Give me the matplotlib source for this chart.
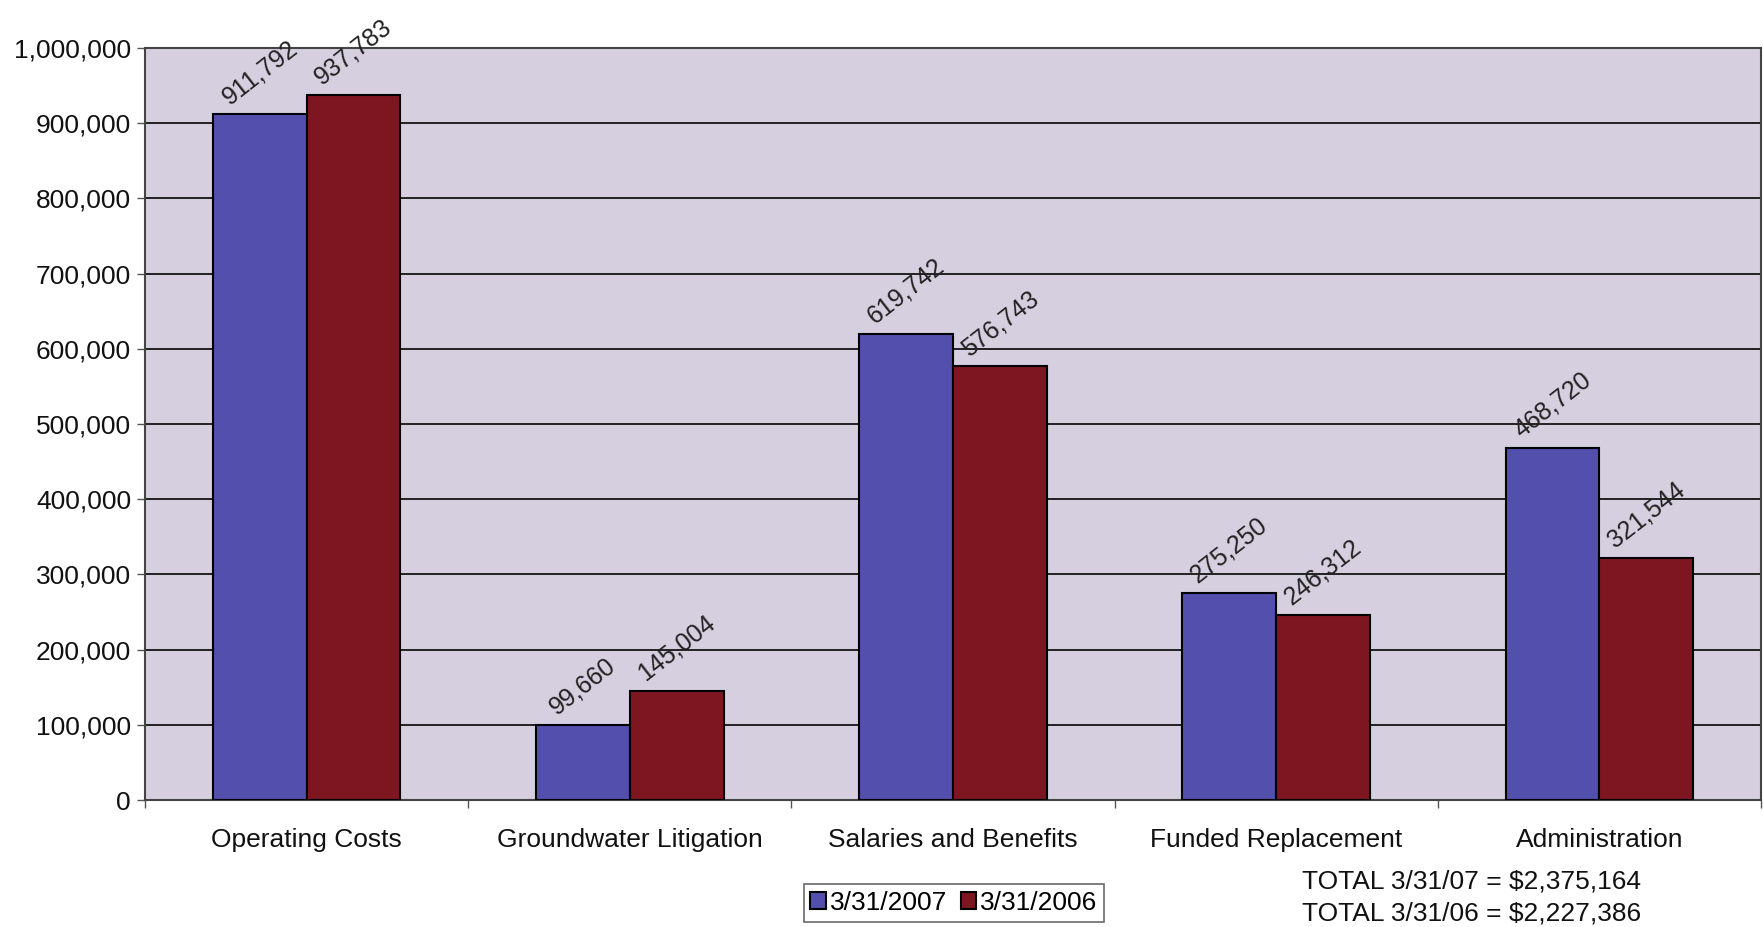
import matplotlib
matplotlib.use('Agg')
import matplotlib.pyplot as plt
from matplotlib.ticker import FuncFormatter, FixedLocator
import numpy as np

plt.rcParams['font.family'] = ['Liberation Sans', 'DejaVu Sans']

CATEGORIES = ['Operating Costs', 'Groundwater Litigation', 'Salaries and Benefits',
              'Funded Replacement', 'Administration']
VALUES_2007 = [911792, 99660, 619742, 275250, 468720]
VALUES_2006 = [937783, 145004, 576743, 246312, 321544]
SERIES_LABELS = ['3/31/2007', '3/31/2006']
TOTALS = ['TOTAL 3/31/07 = $2,375,164', 'TOTAL 3/31/06 = $2,227,386']

BLUE = '#5250ac'
RED = '#7e1622'
BG = '#d5cfdf'
W, H, DPI = 1763, 927, 100
FS = 19

fig = plt.figure(figsize=(W / DPI, H / DPI), dpi=DPI)
ax = fig.add_axes([145 / W, 1 - 800 / H, (1761 - 145) / W, (800 - 48) / H])
ax.set_facecolor(BG)

x = np.arange(len(CATEGORIES))
bw = 0.29
b1 = ax.bar(x - bw / 2, VALUES_2007, bw, color=BLUE, edgecolor='black', linewidth=1.5,
            label=SERIES_LABELS[0], zorder=3)
b2 = ax.bar(x + bw / 2, VALUES_2006, bw, color=RED, edgecolor='black', linewidth=1.5,
            label=SERIES_LABELS[1], zorder=3)

# value labels sit diagonally above each bar
for bars in (b1, b2):
    for r in bars:
        v = r.get_height()
        ax.annotate(f'{v:,.0f}', (r.get_x() + r.get_width() / 2, v),
                    xytext=(0, 4), textcoords='offset points', rotation=38,
                    ha='center', va='bottom', fontsize=FS - 1, color='#222222',
                    zorder=4, annotation_clip=False)

ax.set_xlim(-0.5, len(CATEGORIES) - 0.5)
ax.set_ylim(0, 1000000)
ax.set_yticks(np.arange(0, 1000001, 100000))
ax.yaxis.set_major_formatter(FuncFormatter(lambda v, p: f'{v:,.0f}'))
ax.yaxis.grid(True, color='#222222', linewidth=1.4, zorder=1)
ax.set_axisbelow(True)

ax.set_xticks(x)
ax.set_xticklabels(CATEGORIES)
ax.tick_params(axis='x', which='major', length=0, pad=20, labelsize=FS, labelcolor='#111111')
ax.xaxis.set_minor_locator(FixedLocator(np.arange(-0.5, len(CATEGORIES), 1)))
ax.tick_params(axis='x', which='minor', length=6, width=1, color='#555555')
ax.tick_params(axis='y', length=6, width=1, color='#555555', labelsize=FS,
               labelcolor='#111111', pad=4)

for side in ('left', 'bottom', 'top', 'right'):
    ax.spines[side].set_color('#444444')
    ax.spines[side].set_linewidth(1.5)

leg = fig.legend(handles=[b1, b2], labels=SERIES_LABELS, loc='center',
                 bbox_to_anchor=(954 / W, 1 - 903 / H), ncol=2, fontsize=FS,
                 frameon=True, fancybox=False, edgecolor='#444444',
                 handlelength=0.6, handleheight=0.6, handletextpad=0.15,
                 columnspacing=0.5, borderpad=0.25)
leg.get_frame().set_linewidth(1.2)

fig.text(1302 / W, 1 - 881 / H, TOTALS[0], fontsize=FS, color='#111111', va='center')
fig.text(1302 / W, 1 - 913 / H, TOTALS[1], fontsize=FS, color='#111111', va='center')

fig.savefig('out.png', dpi=DPI)
